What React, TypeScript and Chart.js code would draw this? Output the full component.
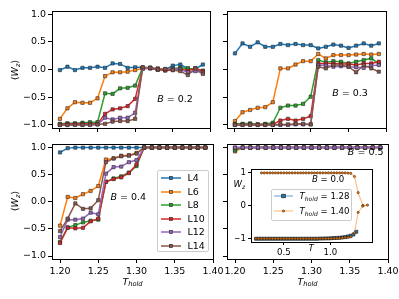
import React, { useEffect, useRef } from "react";
import { Chart, registerables } from "chart.js";
Chart.register(...registerables);

const FONT = "'DejaVu Sans', sans-serif";

const T_HOLD = [1.20, 1.21, 1.22, 1.23, 1.24, 1.25, 1.26, 1.27, 1.28, 1.29, 1.30, 1.31, 1.32, 1.33, 1.34, 1.35, 1.36, 1.37, 1.38, 1.39];
const SIZES = ["L4", "L6", "L8", "L10", "L12", "L14"];
const COLORS = ["#1f77b4", "#ff7f0e", "#2ca02c", "#d62728", "#9467bd", "#8c564b"];
const X_TICKS = [1.2, 1.25, 1.3, 1.35, 1.4];
const Y_TICKS = [-1, -0.5, 0, 0.5, 1];

// rows: L4, L6, L8, L10, L12, L14
const WZ_B02 = [
  [-0.01, 0.05, -0.01, 0.03, 0.03, 0.05, 0.03, 0.11, 0.10, 0.03, 0.04, 0.04, 0.02, 0.00, 0.00, 0.07, 0.09, 0.02, 0.01, 0.09],
  [-0.89, -0.70, -0.59, -0.60, -0.60, -0.52, -0.12, -0.05, -0.05, -0.04, -0.01, 0.02, 0.03, 0.02, 0.00, 0.01, 0.02, -0.02, 0.02, -0.03],
  [-0.98, -0.97, -0.97, -0.96, -0.95, -0.95, -0.43, -0.44, -0.34, -0.33, -0.29, 0.03, 0.03, 0.00, -0.01, 0.02, 0.03, 0.02, -0.01, -0.02],
  [-0.99, -0.98, -0.98, -0.98, -0.98, -0.98, -0.80, -0.72, -0.70, -0.66, -0.53, 0.02, 0.02, 0.00, -0.02, -0.01, 0.01, -0.02, 0.02, -0.03],
  [-1.00, -1.00, -0.99, -1.00, -0.99, -0.99, -0.87, -0.90, -0.87, -0.87, -0.78, 0.01, 0.03, 0.01, 0.00, 0.01, 0.00, -0.05, -0.03, -0.06],
  [-1.00, -1.00, -1.00, -1.00, -1.00, -0.99, -0.98, -0.94, -0.93, -0.93, -0.89, 0.04, 0.03, 0.00, 0.01, -0.01, -0.03, -0.10, 0.02, -0.08],
];
const WZ_B03 = [
  [0.29, 0.47, 0.41, 0.49, 0.41, 0.41, 0.46, 0.44, 0.46, 0.44, 0.44, 0.38, 0.41, 0.45, 0.43, 0.39, 0.43, 0.47, 0.43, 0.47],
  [-0.93, -0.77, -0.73, -0.69, -0.68, -0.59, 0.02, 0.02, 0.09, 0.15, 0.15, 0.28, 0.20, 0.26, 0.26, 0.26, 0.27, 0.28, 0.27, 0.28],
  [-0.98, -0.98, -0.97, -0.99, -0.98, -0.96, -0.69, -0.65, -0.65, -0.62, -0.49, 0.17, 0.13, 0.15, 0.14, 0.11, 0.14, 0.17, 0.20, 0.10],
  [-0.99, -0.99, -0.99, -0.99, -0.99, -0.99, -0.92, -0.89, -0.92, -0.89, -0.84, 0.11, 0.11, 0.11, 0.10, 0.10, 0.08, 0.11, 0.11, 0.14],
  [-1.00, -1.00, -0.99, -1.00, -1.00, -1.00, -1.00, -1.00, -0.99, -0.99, -0.99, 0.08, 0.07, 0.05, 0.06, 0.05, 0.04, 0.03, 0.07, 0.08],
  [-1.00, -1.00, -1.00, -1.00, -1.00, -1.00, -0.99, -0.99, -0.98, -0.98, -0.99, 0.05, 0.02, 0.08, 0.08, 0.05, -0.05, 0.08, 0.02, -0.04],
];
const WZ_B04 = [
  [0.91, 0.99, 1.00, 1.00, 1.00, 1.00, 1.00, 1.00, 1.00, 1.00, 1.00, 1.00, 1.00, 1.00, 1.00, 1.00, 1.00, 1.00, 1.00, 1.00],
  [-0.44, 0.09, 0.07, 0.14, 0.20, 0.29, 0.78, 0.80, 0.85, 0.86, 0.90, 1.00, 1.00, 1.00, 1.00, 1.00, 1.00, 1.00, 1.00, 1.00],
  [-0.74, -0.47, -0.43, -0.38, -0.35, -0.33, 0.37, 0.43, 0.47, 0.54, 0.66, 1.00, 1.00, 1.00, 1.00, 1.00, 1.00, 1.00, 1.00, 1.00],
  [-0.76, -0.48, -0.49, -0.48, -0.36, -0.31, 0.37, 0.42, 0.45, 0.53, 0.69, 1.00, 1.00, 1.00, 1.00, 1.00, 1.00, 1.00, 1.00, 1.00],
  [-0.65, -0.33, -0.33, -0.31, -0.20, -0.23, 0.52, 0.64, 0.65, 0.73, 0.77, 1.00, 1.00, 1.00, 1.00, 1.00, 1.00, 1.00, 1.00, 1.00],
  [-0.54, -0.31, -0.03, -0.13, -0.12, 0.03, 0.73, 0.80, 0.84, 0.85, 0.89, 1.00, 1.00, 1.00, 1.00, 1.00, 1.00, 1.00, 1.00, 1.00],
];
const WZ_B05 = [
  [1.00, 1.00, 1.00, 1.00, 1.00, 1.00, 1.00, 1.00, 1.00, 1.00, 1.00, 1.00, 1.00, 1.00, 1.00, 1.00, 1.00, 1.00, 1.00, 1.00],
  [0.93, 1.00, 1.00, 1.00, 1.00, 1.00, 1.00, 1.00, 1.00, 1.00, 1.00, 1.00, 1.00, 1.00, 1.00, 1.00, 1.00, 1.00, 1.00, 1.00],
  [0.95, 1.00, 1.00, 1.00, 1.00, 1.00, 1.00, 1.00, 1.00, 1.00, 1.00, 1.00, 1.00, 1.00, 1.00, 1.00, 1.00, 1.00, 1.00, 1.00],
  [0.99, 1.00, 1.00, 1.00, 1.00, 1.00, 1.00, 1.00, 1.00, 1.00, 1.00, 1.00, 1.00, 1.00, 1.00, 1.00, 1.00, 1.00, 1.00, 1.00],
  [1.00, 1.00, 1.00, 1.00, 1.00, 1.00, 1.00, 1.00, 1.00, 1.00, 1.00, 1.00, 1.00, 1.00, 1.00, 1.00, 1.00, 1.00, 1.00, 1.00],
];

// inset: W_z vs T at B = 0.0
const INSET_T_128 = [0.20, 0.23, 0.26, 0.29, 0.32, 0.35, 0.38, 0.41, 0.44, 0.47, 0.50, 0.53, 0.56, 0.59, 0.62, 0.65, 0.68, 0.71, 0.74, 0.77, 0.80, 0.83, 0.86, 0.89, 0.92, 0.95, 0.98, 1.01, 1.04, 1.07, 1.10, 1.13, 1.16, 1.19, 1.22, 1.25, 1.28];
const INSET_W_128 = [-1.00, -1.00, -1.00, -1.00, -1.00, -1.00, -1.00, -1.00, -1.00, -1.00, -1.00, -1.00, -1.00, -1.00, -1.00, -1.00, -1.00, -1.00, -1.00, -1.00, -1.00, -1.00, -1.00, -0.995, -0.995, -0.99, -0.99, -0.985, -0.98, -0.975, -0.97, -0.96, -0.95, -0.93, -0.91, -0.87, -0.79];
const INSET_T_140 = [0.26, 0.29, 0.32, 0.35, 0.38, 0.41, 0.44, 0.47, 0.50, 0.53, 0.56, 0.59, 0.62, 0.65, 0.68, 0.71, 0.74, 0.77, 0.80, 0.83, 0.86, 0.89, 0.92, 0.95, 0.98, 1.01, 1.04, 1.07, 1.10, 1.13, 1.16, 1.19, 1.22, 1.26, 1.30, 1.35, 1.40, 1.35, 1.30, 1.26, 1.22, 1.19, 1.16, 1.13, 1.10, 1.07, 1.04, 1.01, 0.98, 0.95, 0.92, 0.89, 0.86, 0.83, 0.80, 0.77, 0.74, 0.71, 0.68, 0.65, 0.62, 0.59, 0.56, 0.53, 0.50, 0.47, 0.44, 0.41, 0.38, 0.35, 0.32, 0.29, 0.26, 0.23, 0.20];
const INSET_W_140 = [1.00, 1.00, 1.00, 1.00, 1.00, 1.00, 1.00, 1.00, 1.00, 1.00, 1.00, 1.00, 1.00, 1.00, 1.00, 1.00, 1.00, 1.00, 1.00, 1.00, 1.00, 1.00, 1.00, 1.00, 1.00, 1.00, 1.00, 1.00, 1.00, 1.00, 1.00, 0.995, 0.985, 0.89, 0.40, 0.01, 0.02, -0.01, -0.20, -0.82, -0.94, -0.96, -0.97, -0.975, -0.98, -0.985, -0.99, -0.99, -0.995, -0.995, -1.00, -1.00, -1.00, -1.00, -1.00, -1.00, -1.00, -1.00, -1.00, -1.00, -1.00, -1.00, -1.00, -1.00, -1.00, -1.00, -1.00, -1.00, -1.00, -1.00, -1.00, -1.00, -1.00, -1.00, -1.00];
const INSET_X_TICKS = [0.5, 1.0];
const INSET_Y_TICKS = [-1, 0, 1];

const fmt2 = (v: number) => v.toFixed(2);
const fmt1 = (v: number) => (v < -1e-9 ? "\u2212" : "") + Math.abs(v).toFixed(1);
const fmt0 = (v: number) => (v < -1e-9 ? "\u2212" : "") + Math.abs(v).toFixed(0);

const framePlugin = {
  id: "frame",
  beforeDraw(chart: any, _a: any, opts: any) {
    if (opts && opts.fill) {
      const { left, top, right, bottom } = chart.chartArea;
      const ctx = chart.ctx;
      ctx.save();
      ctx.fillStyle = opts.fill;
      ctx.fillRect(left, top, right - left, bottom - top);
      ctx.restore();
    }
  },
  afterDraw(chart: any) {
    const { left, top, right, bottom } = chart.chartArea;
    const ctx = chart.ctx;
    const a = (p: number) => Math.round(p - 0.5) + 0.5;
    ctx.save();
    ctx.strokeStyle = "#000";
    ctx.lineWidth = 1;
    ctx.strokeRect(a(left), a(top), a(right) - a(left), a(bottom) - a(top));
    ctx.restore();
  },
};

function makeScale(axis: "x" | "y", o: any) {
  return {
    type: "linear",
    position: axis === "x" ? "bottom" : "left",
    min: o.min,
    max: o.max,
    afterBuildTicks: (s: any) => {
      s.ticks = o.ticks.map((v: number) => ({ value: v }));
    },
    afterFit: (s: any) => {
      if (axis === "x") s.height = o.size;
      else s.width = o.size;
      s.paddingLeft = 0;
      s.paddingRight = 0;
      s.paddingTop = 0;
      s.paddingBottom = 0;
    },
    grid: { display: true, drawOnChartArea: false, drawTicks: true, tickLength: o.tickLen, tickWidth: 1, tickColor: "#000" },
    border: { display: false },
    ticks: {
      display: true,
      autoSkip: false,
      maxRotation: 0,
      minRotation: 0,
      padding: o.pad,
      color: o.show ? "#000" : "rgba(0,0,0,0)",
      font: { family: FONT, size: o.fontSize },
      callback: (v: any) => o.fmt(Number(v)),
    },
  };
}

function seriesDatasets(rows: number[][]) {
  return rows.map((vals, i) => ({
    label: SIZES[i],
    data: T_HOLD.map((t, j) => ({ x: t, y: vals[j] })),
    borderColor: COLORS[i],
    backgroundColor: COLORS[i],
    pointBackgroundColor: COLORS[i],
    pointBorderColor: "#2a2a2a",
    pointBorderWidth: 0.6,
    pointRadius: 2.3,
    pointStyle: "rect",
    borderWidth: 1.5,
    tension: 0,
    order: rows.length - i,
  }));
}

type PanelProps = {
  left: number; top: number; yAxisW: number; padTop: number; padRight: number; xAxisH: number;
  plotW: number; plotH: number; datasets: any[];
  x: any; y: any; fill?: string;
};

function Panel(p: PanelProps) {
  const ref = useRef<HTMLCanvasElement>(null);
  const w = p.yAxisW + p.plotW + p.padRight;
  const h = p.padTop + p.plotH + p.xAxisH;
  useEffect(() => {
    const chart = new Chart(ref.current as HTMLCanvasElement, {
      type: "line",
      data: { datasets: p.datasets },
      options: {
        animation: false,
        responsive: false,
        events: [],
        layout: { padding: { top: p.padTop, right: p.padRight, left: 0, bottom: 0 } },
        plugins: { legend: { display: false }, tooltip: { enabled: false }, frame: { fill: p.fill } } as any,
        scales: {
          x: makeScale("x", { ...p.x, size: p.xAxisH }),
          y: makeScale("y", { ...p.y, size: p.yAxisW }),
        } as any,
      },
      plugins: [framePlugin],
    } as any);
    return () => chart.destroy();
  }, []);
  return (
    <canvas ref={ref} width={w} height={h}
      style={{ position: "absolute", left: p.left, top: p.top, width: w, height: h }} />
  );
}

function Txt(props: { x: number; y: number; size?: number; rotate?: number; children: any }) {
  const { x, y, size = 9.5, rotate = 0 } = props;
  return (
    <div style={{
      position: "absolute", left: x, top: y,
      transform: `translate(-50%,-50%) rotate(${rotate}deg)`,
      fontFamily: FONT, fontSize: size, lineHeight: 1, whiteSpace: "nowrap", color: "#000",
    }}>{props.children}</div>
  );
}

const Sub = (props: { children: any }) => (
  <span style={{ fontSize: "0.7em", position: "relative", top: "0.3em", fontStyle: "italic" }}>{props.children}</span>
);

function Legend() {
  const rows = SIZES.map((s, i) => {
    const cy = 178.3 + 13.5 * i;
    return (
      <React.Fragment key={s}>
        <svg width={20} height={8} style={{ position: "absolute", left: 160.7, top: cy - 4 }}>
          <line x1={0} y1={4} x2={20} y2={4} stroke={COLORS[i]} strokeWidth={1.5} />
          <rect x={8.35} y={2.35} width={3.3} height={3.3} fill={COLORS[i]} stroke="#2a2a2a" strokeWidth={0.6} />
        </svg>
        <div style={{ position: "absolute", left: 187.5, top: cy, transform: "translateY(-50%)", fontFamily: FONT, fontSize: 9.5, lineHeight: 1 }}>{s}</div>
      </React.Fragment>
    );
  });
  return (
    <>
      <div style={{ position: "absolute", left: 157, top: 170, width: 52, height: 82, boxSizing: "border-box",
        background: "rgba(255,255,255,0.8)", border: "1px solid #cccccc", borderRadius: 2 }} />
      {rows}
    </>
  );
}

function InsetLegend() {
  const items = [
    { label: "1.28", line: "rgba(31,119,180,0.7)", marker: "rect" },
    { label: "1.40", line: "rgba(255,127,14,0.6)", marker: "dot" },
  ];
  return (
    <>
      <div style={{ position: "absolute", left: 270.5, top: 189, width: 81.5, height: 31.5, boxSizing: "border-box",
        background: "rgba(255,255,255,0.8)", border: "1px solid #cccccc", borderRadius: 2 }} />
      {items.map((it, i) => {
        const cy = 196 + 15.2 * i;
        return (
          <React.Fragment key={it.label}>
            <svg width={19} height={8} style={{ position: "absolute", left: 273.5, top: cy - 4 }}>
              <line x1={0} y1={4} x2={19} y2={4} stroke={it.line} strokeWidth={1} />
              {it.marker === "rect"
                ? <rect x={7.7} y={2.2} width={3.6} height={3.6} fill="#1f77b4" stroke="#111" strokeWidth={0.6} />
                : <circle cx={9.5} cy={4} r={1.1} fill="#ff7f0e" stroke="#3a2000" strokeWidth={0.6} />}
            </svg>
            <div style={{ position: "absolute", left: 299.5, top: cy, transform: "translateY(-50%)", fontFamily: FONT, fontSize: 8.6, lineHeight: 1, whiteSpace: "nowrap" }}>
              <i>T</i><Sub>hold</Sub> = {it.label}
            </div>
          </React.Fragment>
        );
      })}
    </>
  );
}

export default function App() {
  const PW = 161, PH = 117;
  const xMain = { min: 1.1895, max: 1.40, ticks: X_TICKS, fmt: fmt2, fontSize: 9.5, tickLen: 4, pad: 3 };
  const yMain = { min: -1.055, max: 1.055, ticks: Y_TICKS, fmt: fmt1, fontSize: 9.5, tickLen: 4, pad: 2 };
  const insetDatasets = [
    {
      label: "T_hold = 1.28",
      data: INSET_T_128.map((t, i) => ({ x: t, y: INSET_W_128[i] })),
      borderColor: "rgba(31,119,180,0.7)", borderWidth: 1,
      pointStyle: "rect", pointRadius: 2.1, pointBackgroundColor: "#1f77b4",
      pointBorderColor: "#111", pointBorderWidth: 0.6, order: 2,
    },
    {
      label: "T_hold = 1.40",
      data: INSET_T_140.map((t, i) => ({ x: t, y: INSET_W_140[i] })),
      borderColor: "rgba(255,127,14,0.6)", borderWidth: 1,
      pointStyle: "circle", pointRadius: 1.1, pointBackgroundColor: "#ff7f0e",
      pointBorderColor: "#3a2000", pointBorderWidth: 0.6, order: 1,
    },
  ];
  return (
    <div style={{ position: "absolute", left: 0, top: 0, width: 399, height: 299, overflow: "hidden", background: "#fff" }}>
      <Panel left={0} top={0} yAxisW={52} padTop={11} padRight={2} xAxisH={6} plotW={PW} plotH={PH}
        datasets={seriesDatasets(WZ_B02)} x={{ ...xMain, show: false }} y={{ ...yMain, show: true }} />
      <Panel left={219} top={0} yAxisW={8} padTop={11} padRight={3} xAxisH={6} plotW={PW} plotH={PH}
        datasets={seriesDatasets(WZ_B03)} x={{ ...xMain, show: false }} y={{ ...yMain, show: false }} />
      <Panel left={0} top={140} yAxisW={52} padTop={2} padRight={12} xAxisH={30} plotW={PW} plotH={PH}
        datasets={seriesDatasets(WZ_B04)} x={{ ...xMain, show: true }} y={{ ...yMain, show: true }} />
      <Panel left={219} top={140} yAxisW={8} padTop={2} padRight={10} xAxisH={30} plotW={PW} plotH={PH}
        datasets={seriesDatasets(WZ_B05)} x={{ ...xMain, show: true }} y={{ ...yMain, show: false }} />
      <Panel left={235} top={165} yAxisW={16} padTop={2} padRight={2} xAxisH={14} plotW={124} plotH={75}
        datasets={insetDatasets} fill="#ffffff"
        x={{ min: 0.147, max: 1.453, ticks: INSET_X_TICKS, fmt: fmt1, fontSize: 8.6, tickLen: 3, pad: 3, show: true }}
        y={{ min: -1.1, max: 1.1, ticks: INSET_Y_TICKS, fmt: fmt0, fontSize: 8.6, tickLen: 3, pad: 2, show: true }} />

      <Txt x={15} y={69.5} rotate={-90}>⟨<i>W</i><Sub>z</Sub>⟩</Txt>
      <Txt x={15} y={200.5} rotate={-90}>⟨<i>W</i><Sub>z</Sub>⟩</Txt>
      <Txt x={132.5} y={281.5}><i>T</i><Sub>hold</Sub></Txt>
      <Txt x={307.5} y={281.5}><i>T</i><Sub>hold</Sub></Txt>

      <Txt x={175} y={99.3}><i>B</i> = 0.2</Txt>
      <Txt x={350} y={93.3}><i>B</i> = 0.3</Txt>
      <Txt x={128.3} y={196.7}><i>B</i> = 0.4</Txt>
      <Txt x={365.7} y={152.3}><i>B</i> = 0.5</Txt>
      <Txt x={328} y={179} size={8.6}><i>B</i> = 0.0</Txt>
      <Txt x={239.3} y={184.3} size={8.6}><i>W</i><Sub>z</Sub></Txt>
      <Txt x={311} y={248} size={8.6}><i>T</i></Txt>

      <Legend />
      <InsetLegend />
    </div>
  );
}
